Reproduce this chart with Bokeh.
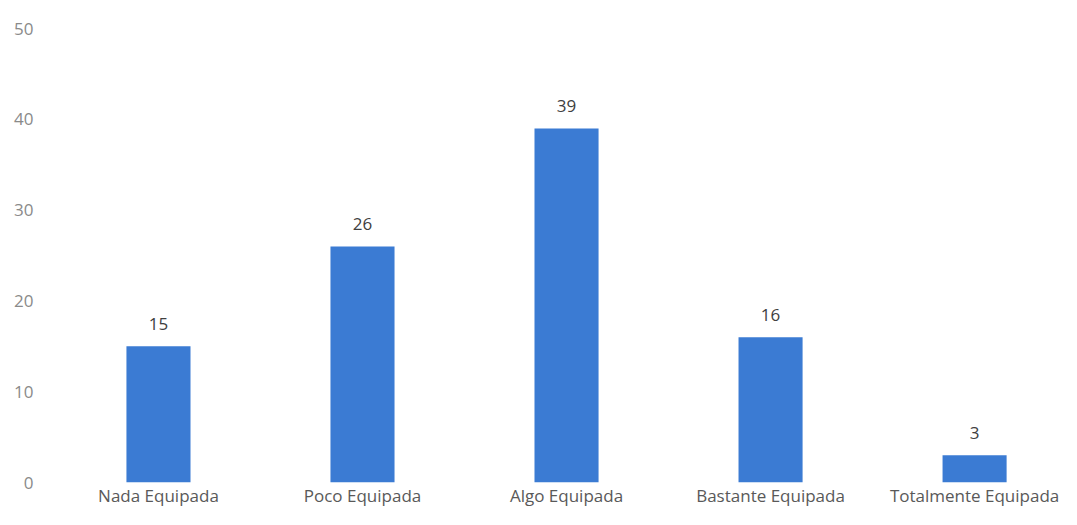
from bokeh.plotting import figure
from bokeh.models import ColumnDataSource, Range1d, LabelSet, SingleIntervalTicker, FixedTicker
from bokeh.core.properties import value
from bokeh.embed import file_html
from bokeh.resources import INLINE

categories = ["Nada Equipada", "Poco Equipada", "Algo Equipada", "Bastante Equipada", "Totalmente Equipada"]
values = [15, 26, 39, 16, 3]
labels = [str(v) for v in values]
positions = list(range(len(categories)))

src = ColumnDataSource(dict(x=positions, val=values, lab=labels))

p = figure(x_range=Range1d(-0.539, 4.426), y_range=Range1d(0, 50), width=1061, height=509,
           output_backend="svg", toolbar_location=None,
           min_border_left=48, min_border_right=0, min_border_top=28, min_border_bottom=20)
p.vbar(x="x", top="val", width=0.314, source=src, fill_color="#3b7bd3", line_color=None)

p.add_layout(LabelSet(x="x", y="val", text="lab", source=src, text_align="center",
                      text_baseline="bottom", y_offset=16, text_font=value("Open Sans"),
                      text_font_size="17px", text_color="#404040"))

p.yaxis.ticker = SingleIntervalTicker(interval=10)
p.xaxis.ticker = FixedTicker(ticks=positions)
p.xaxis.major_label_overrides = {i: c for i, c in zip(positions, categories)}
for ax in (p.xaxis[0], p.yaxis[0]):
    ax.axis_line_color = None
    ax.major_tick_line_color = None
    ax.minor_tick_line_color = None
    ax.major_tick_in = 0
    ax.major_tick_out = 0
    ax.minor_tick_in = 0
    ax.minor_tick_out = 0
    ax.major_label_text_font = "Open Sans"
    ax.major_label_text_font_size = "17px"
p.yaxis.major_label_text_color = "#8a8a8a"
p.xaxis.major_label_text_color = "#595959"
p.yaxis.major_label_standoff = 15
p.xaxis.major_label_standoff = 1
p.xgrid.grid_line_color = None
p.ygrid.grid_line_color = None
p.outline_line_color = None

open("out.html", "w").write(file_html(p, INLINE))
